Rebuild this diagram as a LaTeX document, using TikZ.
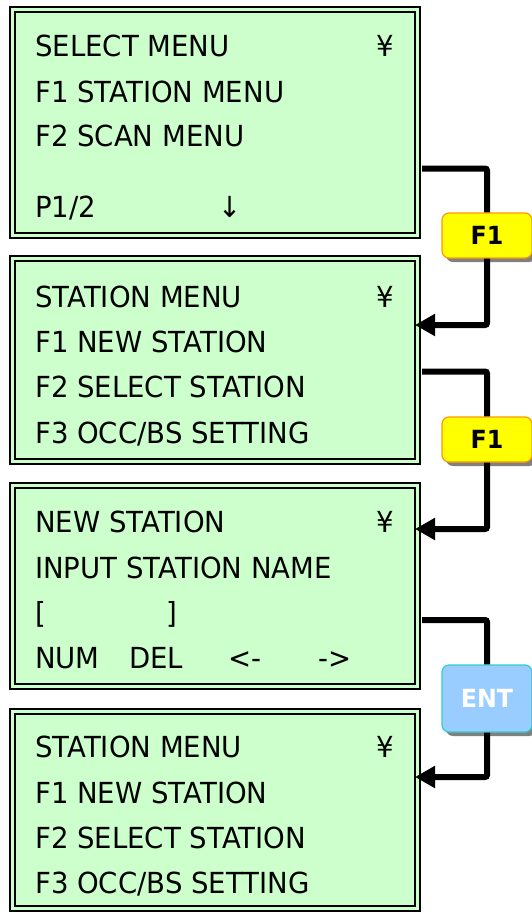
\documentclass[tikz,border=0pt]{standalone}
\usepackage{fontspec}
\setmainfont[FakeStretch=0.95]{DejaVu Sans}
\usetikzlibrary{arrows.meta,shadows}
\definecolor{lcdgreen}{HTML}{CCFFCC}
\definecolor{keyyellow}{HTML}{FFFF00}
\definecolor{keyorange}{HTML}{FF9900}
\definecolor{entblue}{HTML}{99CCFF}
\definecolor{entcyan}{HTML}{33CCCC}
\begin{document}
\begin{tikzpicture}[x=1pt,y=-1pt,
    screen/.style={draw=black,line width=2pt,double=lcdgreen,double distance=3pt,fill=lcdgreen,minimum width=405pt,inner sep=0pt},
    lcd/.style={anchor=base west,inner sep=0pt,font=\fontsize{29}{30}\selectfont},
    fkey/.style={rounded corners=7pt,fill=keyyellow,draw=keyorange,line width=1.2pt,minimum width=90pt,minimum height=45pt,font=\fontsize{25}{26}\selectfont\bfseries,drop shadow={shadow xshift=4pt,shadow yshift=-4pt,fill=gray,opacity=1}},
    entkey/.style={fkey,fill=entblue,draw=entcyan,text=white,minimum height=67pt},
    conn/.style={line width=6pt,rounded corners=2pt},
    tip/.style={-{Triangle[length=20pt,width=21pt]},shorten >=-3.5pt}]
  \useasboundingbox (0,0) rectangle (532,913);
  % screens
  \node [screen,minimum height=226pt] (s1) at (215,122.5) {};
  \node [screen,minimum height=203pt] (s2) at (215,360) {};
  \node [screen,minimum height=201pt] (s3) at (215,586) {};
  \node [screen,minimum height=197pt] (s4) at (215,809.5) {};
  % screen 1
  \node [lcd] (t11) at (35,56) {SELECT MENU};
  \node [lcd] (y1) at (376,56) {¥};
  \node [lcd] (t12) at (35,102) {F1 STATION MENU};
  \node [lcd] (t13) at (35,146) {F2 SCAN MENU};
  \node [lcd] (t14) at (35,217) {P1/2};
  \node [lcd] (dn) at (218,217) {↓};
  % screen 2
  \node [lcd] (t21) at (35,307) {STATION MENU};
  \node [lcd] (y2) at (376,307) {¥};
  \node [lcd] (t22) at (35,352) {F1 NEW STATION};
  \node [lcd] (t23) at (35,397) {F2 SELECT STATION};
  \node [lcd] (t24) at (35,443) {F3 OCC/BS SETTING};
  % screen 3
  \node [lcd] (t31) at (35,532) {NEW STATION};
  \node [lcd] (y3) at (376,532) {¥};
  \node [lcd] (t32) at (35,578) {INPUT STATION NAME};
  \node [lcd] (lb) at (35,623) {[};
  \node [lcd] (rb) at (166,623) {]};
  \node [lcd] (num) at (35,668) {NUM};
  \node [lcd] (del) at (129,668) {DEL};
  \node [lcd] (lt) at (228,668) {<-};
  \node [lcd] (rt) at (318,668) {->};
  % screen 4
  \node [lcd] (t41) at (35,757) {STATION MENU};
  \node [lcd] (y4) at (376,757) {¥};
  \node [lcd] (t42) at (35,803) {F1 NEW STATION};
  \node [lcd] (t43) at (35,848) {F2 SELECT STATION};
  \node [lcd] (t44) at (35,893) {F3 OCC/BS SETTING};
  % keys
  \node [fkey] (k1) at (487,235.5) {F1};
  \node [fkey] (k2) at (487,439.5) {F1};
  \node [entkey] (k3) at (487,698.5) {ENT};
  % connectors
  \draw [conn] ([xshift=3.5pt,yshift=-46pt]s1.east) -| (k1.north);
  \draw [conn,tip] (k1.south) |- ([yshift=35pt]s2.east);
  \draw [conn] ([xshift=3.5pt,yshift=-11.5pt]s2.east) -| (k2.north);
  \draw [conn,tip] (k2.south) |- ([yshift=57pt]s3.east);
  \draw [conn] ([xshift=3.5pt,yshift=-34pt]s3.east) -| (k3.north);
  \draw [conn,tip] (k3.south) |- ([yshift=32.5pt]s4.east);
\end{tikzpicture}
\end{document}
